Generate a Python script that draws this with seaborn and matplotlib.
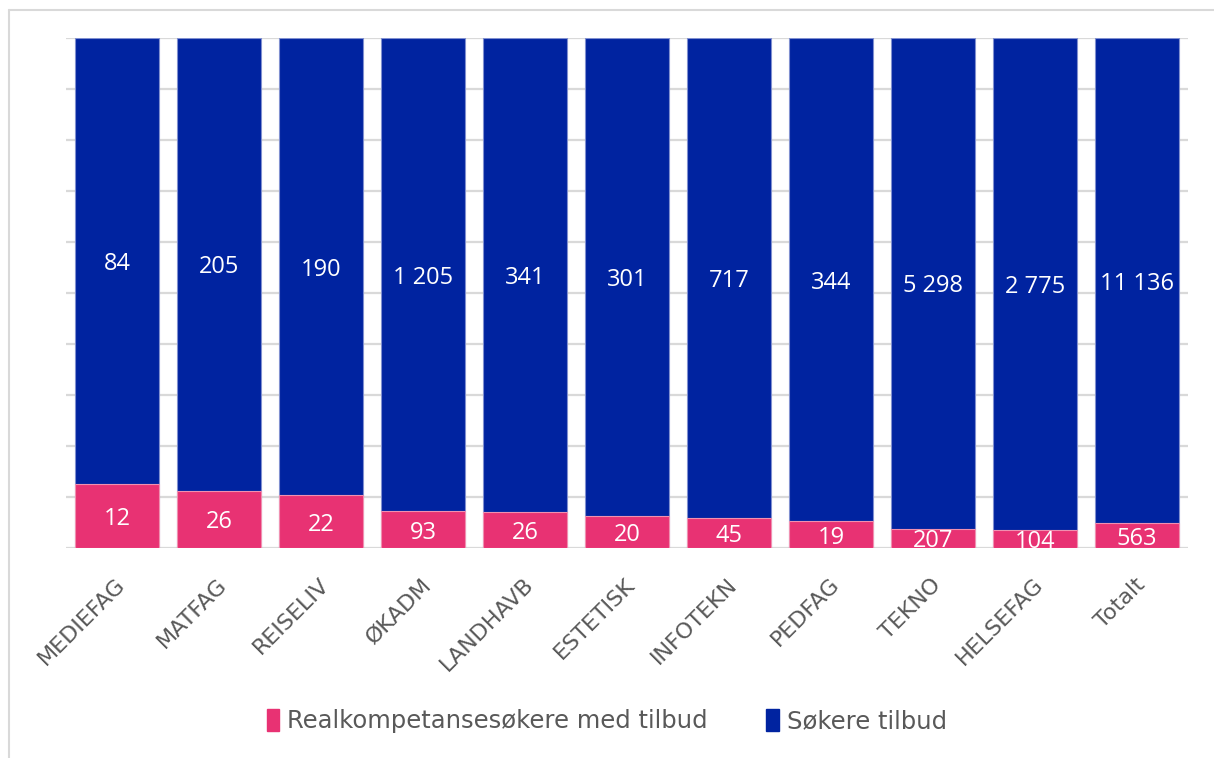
import pandas as pd
import matplotlib.pyplot as plt
import matplotlib.transforms as mtransforms
from matplotlib.lines import Line2D
from matplotlib.patches import Patch
import seaborn as sns

# Data
categories = ['MEDIEFAG', 'MATFAG', 'REISELIV', 'ØKADM', 'LANDHAVB', 'ESTETISK',
              'INFOTEKN', 'PEDFAG', 'TEKNO', 'HELSEFAG', 'Totalt']
realkompetanse = [12, 26, 22, 93, 26, 20, 45, 19, 207, 104, 563]
sokere = [84, 205, 190, 1205, 341, 301, 717, 344, 5298, 2775, 11136]
series_names = ['Realkompetansesøkere med tilbud', 'Søkere tilbud']

PINK = '#E83273'
BLUE = '#0023A0'
GRID = '#D9D9D9'
TEXT = '#595959'


def fmt(v: int) -> str:
    return f'{v:,}'.replace(',', ' ')


def main():
    sns.set_theme(style='white')
    plt.rcParams['font.family'] = ['Open Sans', 'DejaVu Sans']

    # 100 % stacked shares
    df = pd.DataFrame({'cat': categories, 'real': realkompetanse, 'sok': sokere})
    df['total'] = df['real'] + df['sok']
    df['share_real'] = df['real'] / df['total']
    df['share_all'] = 1.0

    fig = plt.figure(figsize=(12.14, 7.58), dpi=100)
    ax = fig.add_axes([66 / 1214, 210 / 758, 1122 / 1214, 510 / 758])

    sns.barplot(data=df, x='cat', y='share_all', color=BLUE, saturation=1,
                width=0.82, edgecolor='#8090D0', linewidth=0.8, ax=ax, zorder=2)
    sns.barplot(data=df, x='cat', y='share_real', color=PINK, saturation=1,
                width=0.82, edgecolor='#F090B0', linewidth=0.8, ax=ax, zorder=3)

    # Data labels
    for i, row in df.iterrows():
        ax.text(i, (1 + row['share_real']) / 2, fmt(row['sok']), color='white',
                ha='center', va='center_baseline', fontsize=17, zorder=5)
        ax.text(i, row['share_real'] / 2, fmt(row['real']), color='white',
                ha='center', va='center_baseline', fontsize=17, zorder=5, clip_on=True)

    ax.set_ylim(0, 1)
    ax.set_xlim(-0.5, len(categories) - 0.5)
    ax.set_yticks([i / 10 for i in range(11)])
    ax.set_yticklabels([])
    ax.yaxis.grid(True, color=GRID, linewidth=1.6, zorder=0)
    ax.set_axisbelow(True)
    ax.set_xlabel('')
    ax.set_ylabel('')
    for s in ax.spines.values():
        s.set_visible(False)
    ax.tick_params(axis='both', length=0)
    ax.tick_params(axis='x', pad=24)

    offset = mtransforms.ScaledTranslation(5 / 100, 0, fig.dpi_scale_trans)
    for lbl in ax.get_xticklabels():
        lbl.set_rotation(45)
        lbl.set_ha('right')
        lbl.set_va('center')
        lbl.set_rotation_mode('anchor')
        lbl.set_fontsize(16)
        lbl.set_family('DejaVu Sans')
        lbl.set_color(TEXT)
        lbl.set_transform(lbl.get_transform() + offset)

    handles = [Patch(color=PINK), Patch(color=BLUE)]
    fig.legend(handles, series_names, loc='center', bbox_to_anchor=(0.5, 1 - 721 / 758),
               ncol=2, frameon=False, labelcolor=TEXT,
               prop={'family': 'DejaVu Sans', 'size': 17.5},
               handlelength=0.5, handleheight=1.0, handletextpad=0.35, columnspacing=2.4)

    # Chart-area border (top and left only visible)
    fig.add_artist(Line2D([8.5 / 1214, 1], [1 - 9.5 / 758] * 2, color=GRID, lw=1.5))
    fig.add_artist(Line2D([8.5 / 1214] * 2, [0, 1 - 9.5 / 758], color=GRID, lw=1.5))

    fig.savefig('out.png', dpi=100)


if __name__ == '__main__':
    main()
